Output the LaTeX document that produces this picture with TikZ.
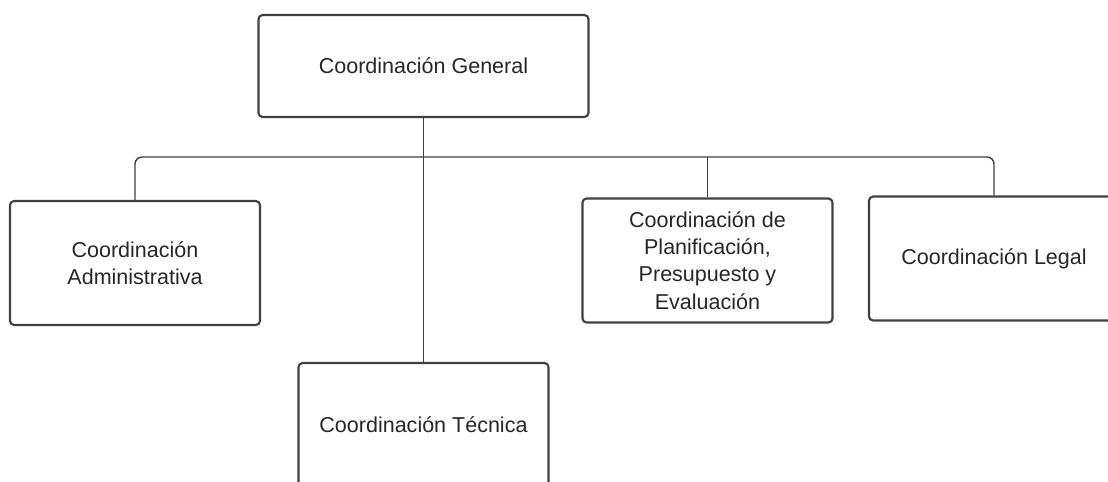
\documentclass[tikz,border=0pt]{standalone}
\usepackage{fontspec}
\setmainfont{Liberation Sans}

\begin{document}
\begin{tikzpicture}[x=0.025cm, y=-0.025cm,
    cargo/.style={draw=black!75, line width=1.5pt, rounded corners=3pt,
        minimum width=6.25cm, minimum height=3.1cm, inner sep=0pt,
        align=center, text=black!85, font=\fontsize{15.3}{19.3}\selectfont},
    linea/.style={draw=black!75, line width=1pt}]
    \clip (0,0) rectangle (1108,481);

    \node[cargo, minimum width=8.25cm, minimum height=2.55cm] (gen) at (423.5,66) {Coordinación General};

    \node[cargo] (adm) at (135,263) {Coordinación\\Administrativa};
    \node[cargo] (tec) at (423.5,425) {Coordinación Técnica};
    \node[cargo] (pla) at (707.5,260.5) {Coordinación de\\Planificación,\\Presupuesto y\\Evaluación};
    \node[cargo] (leg) at (994,258.5) {Coordinación Legal};

    \coordinate (barra) at (423.5,157);

    \draw[linea] (gen) -- (tec);
    \draw[linea, rounded corners=5pt] (adm.north) |- (barra) -| (leg.north);
    \draw[linea] (pla.north) -- (pla.north |- barra);

\end{tikzpicture}
\end{document}
